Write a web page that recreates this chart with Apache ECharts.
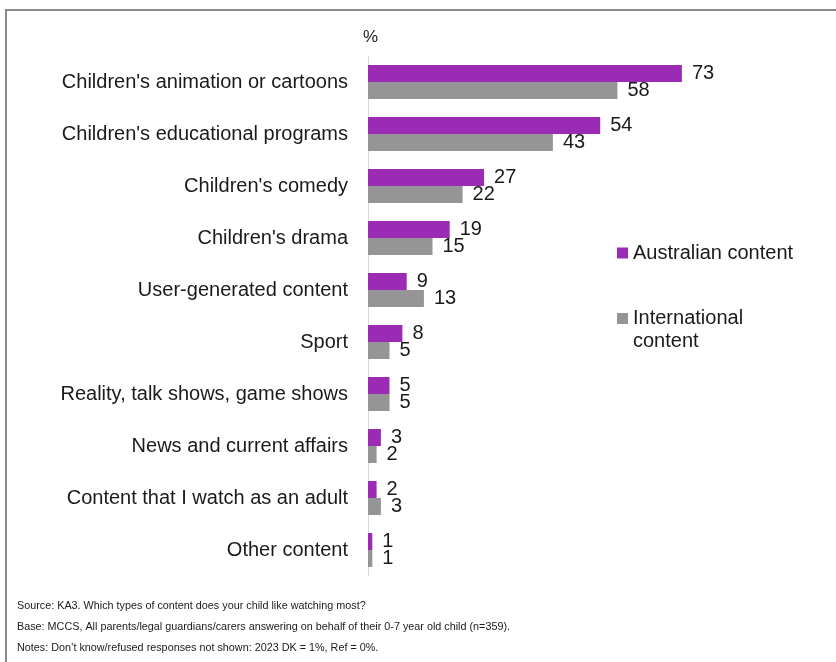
<!DOCTYPE html>
<html>
<head>
<meta charset="utf-8">
<script src="https://cdn.jsdelivr.net/npm/echarts@6/dist/echarts.min.js"></script>
<style>
  html, body { margin: 0; padding: 0; background: #ffffff; }
  #chart { width: 836px; height: 662px; }
</style>
</head>
<body>
<div id="chart"></div>
<script>
// Content types, top to bottom
const categories = [
  "Children's animation or cartoons",
  "Children's educational programs",
  "Children's comedy",
  "Children's drama",
  "User-generated content",
  "Sport",
  "Reality, talk shows, game shows",
  "News and current affairs",
  "Content that I watch as an adult",
  "Other content"
];
// Share of children (%)
const australianContent = [73, 54, 27, 19, 9, 8, 5, 3, 2, 1];
const internationalContent = [58, 43, 22, 15, 13, 5, 5, 2, 3, 1];

const seriesNames = ['Australian content', 'International content'];
const footnotes = [
  'Source: KA3. Which types of content does your child like watching most?',
  'Base: MCCS, All parents/legal guardians/carers answering on behalf of their 0-7 year old child (n=359).',
  "Notes: Don\u2019t know/refused responses not shown: 2023 DK = 1%, Ref = 0%."
];

const FONT = '"Liberation Sans", Arial, sans-serif';
const PURPLE = '#9b2bb5';
const GREY = '#959595';

const chart = echarts.init(document.getElementById('chart'), null, { renderer: 'canvas' });

const valueLabel = {
  show: true,
  position: 'right',
  distance: 10,
  fontFamily: FONT,
  fontSize: 20,
  color: '#1a1a1a'
};

chart.setOption({
  backgroundColor: '#ffffff',
  animation: false,
  textStyle: { fontFamily: FONT },
  title: {
    text: '%',
    left: 363,
    top: 29,
    padding: 0,
    textStyle: { fontFamily: FONT, fontSize: 17, fontWeight: 'normal', color: '#1a1a1a' }
  },
  legend: [
    {
      data: [seriesNames[0]],
      left: 617,
      top: 243,
      padding: 0,
      icon: 'rect',
      itemWidth: 11,
      itemHeight: 11,
      textStyle: { fontFamily: FONT, fontSize: 20, color: '#1a1a1a' }
    },
    {
      // leading blank line keeps the marker level with the first text line
      data: [seriesNames[1]],
      left: 617,
      top: 284,
      padding: 0,
      icon: 'rect',
      itemWidth: 11,
      itemHeight: 11,
      formatter: function () { return '\nInternational\ncontent'; },
      textStyle: { fontFamily: FONT, fontSize: 20, lineHeight: 23, color: '#1a1a1a' }
    }
  ],
  grid: { left: 368, right: 38, top: 56, bottom: 86, containLabel: false },
  xAxis: {
    type: 'value',
    min: 0,
    max: 100,
    show: false
  },
  yAxis: {
    type: 'category',
    data: categories,
    inverse: true,
    axisLine: { show: true, lineStyle: { color: '#d9d9d9', width: 1 } },
    axisTick: { show: false },
    splitLine: { show: false },
    axisLabel: { margin: 20, fontFamily: FONT, fontSize: 20, color: '#1a1a1a' }
  },
  series: [
    {
      name: seriesNames[0],
      type: 'bar',
      data: australianContent,
      barWidth: 17,
      barGap: '0%',
      itemStyle: { color: PURPLE },
      label: valueLabel
    },
    {
      name: seriesNames[1],
      type: 'bar',
      data: internationalContent,
      barWidth: 17,
      barGap: '0%',
      itemStyle: { color: GREY },
      label: valueLabel
    }
  ],
  graphic: [
    {
      type: 'rect',
      shape: { x: 6, y: 10, width: 900, height: 800 },
      style: { fill: 'none', stroke: '#8a8a8a', lineWidth: 2 },
      silent: true
    },
    {
      type: 'group',
      left: 17,
      top: 601,
      children: footnotes.map(function (t, i) {
        return {
          type: 'text',
          x: 0,
          y: i * 21,
          style: { text: t, fontFamily: FONT, fontSize: 10.8, fill: '#1a1a1a' }
        };
      })
    }
  ]
});
</script>
</body>
</html>
